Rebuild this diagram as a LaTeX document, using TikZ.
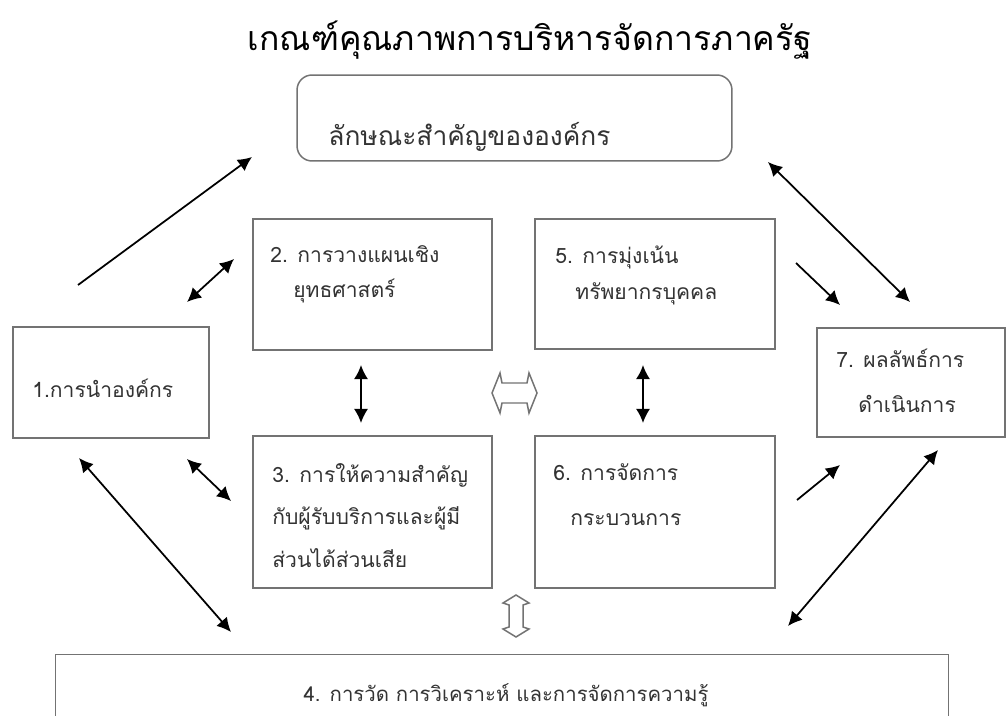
\documentclass[tikz,border=0pt]{standalone}
\usepackage{fontspec}
\newfontfamily\thai[Script=Thai]{Loma}
\usetikzlibrary{arrows.meta}
\definecolor{boxline}{gray}{0.45}
\definecolor{txt}{gray}{0.2}
\tikzset{
  box/.style={draw=boxline, line width=0.85pt, minimum width=#1, inner sep=0pt},
  lbl/.style={anchor=base west, inner sep=0pt, text=txt, font=\thai\fontsize{12}{15}\selectfont},
  arr/.style={line width=1pt, -{Latex[length=8pt,width=8pt]}},
  darr/.style={line width=1pt, {Latex[length=8pt,width=8pt]}-{Latex[length=8pt,width=8pt]}},
  hollow/.style={draw=boxline, line width=0.85pt, line join=miter, fill=white}
}
\begin{document}
\begin{tikzpicture}[x=0.02cm,y=-0.02cm]
\useasboundingbox (0,0) rectangle (1007,716);
\fill[white] (0,0) rectangle (1007,716);

% title
\node (title) [inner sep=0pt, font=\thai\fontsize{19.2}{24}\selectfont] at (530,40) {เกณฑ์คุณภาพการบริหารจัดการภาครัฐ};

% boxes
\node (top) [box=8.7cm, minimum height=1.72cm, rounded corners=0.3cm] at (514.5,118) {};
\node (b1) [box=3.92cm, minimum height=2.22cm] at (111,382.5) {};
\node (b2) [box=4.78cm, minimum height=2.62cm] at (372.5,284.5) {};
\node (b5) [box=4.8cm, minimum height=2.6cm] at (655,284) {};
\node (b3) [box=4.78cm, minimum height=3.04cm] at (372.5,512) {};
\node (b6) [box=4.8cm, minimum height=3.04cm] at (655,512) {};
\node (b7) [box=3.76cm, minimum height=2.18cm] at (911,382.5) {};
\node (b4) [inner sep=0pt, minimum width=17.84cm, minimum height=1.22cm] at (502,685.5) {};
\draw[boxline, line width=0.85pt] (b4.south west) -- (b4.north west) -- (b4.north east) -- (b4.south east);

% texts
\node (ttop) [lbl, font=\thai\fontsize{15}{18}\selectfont] at (328,146) {ลักษณะสำคัญขององค์กร};
\node (t1) [lbl] at (32,397) {1.การนำองค์กร};
\node (t2a) [lbl] at (270,262) {2. การวางแผนเชิง};
\node (t2b) [lbl] at (293,297) {ยุทธศาสตร์};
\node (t5a) [lbl] at (555,263) {5. การมุ่งเน้น};
\node (t5b) [lbl] at (575,299) {ทรัพยากรบุคคล};
\node (t7a) [lbl] at (836,367) {7. ผลลัพธ์การ};
\node (t7b) [lbl] at (858,412) {ดำเนินการ};
\node (t3a) [lbl] at (272,482) {3. การให้ความสำคัญ};
\node (t3b) [lbl] at (272,524) {กับผู้รับบริการและผู้มี};
\node (t3c) [lbl] at (272,567) {ส่วนได้ส่วนเสีย};
\node (t6a) [lbl] at (553,480) {6. การจัดการ};
\node (t6b) [lbl] at (570,525) {กระบวนการ};
\node (t4) [inner sep=0pt, text=txt, font=\thai\fontsize{11.6}{14}\selectfont] at (506,695) {4. การวัด การวิเคราะห์ และการจัดการความรู้};

% arrow end points
\coordinate (a1s) at (78,285);   \coordinate (a1e) at (252,157);
\coordinate (a2s) at (187,302);  \coordinate (a2e) at (234,259);
\coordinate (a3s) at (768,162);  \coordinate (a3e) at (910,302);
\coordinate (a4s) at (796,263);  \coordinate (a4e) at (840,305);
\coordinate (a5s) at (187,459);  \coordinate (a5e) at (231,501);
\coordinate (a6s) at (79,458);   \coordinate (a6e) at (231,632);
\coordinate (a7s) at (797,500);  \coordinate (a7e) at (840,465);
\coordinate (a8s) at (938,450);  \coordinate (a8e) at (788,626);
\coordinate (a9s) at (361,365);  \coordinate (a9e) at (361,423);
\coordinate (a10s) at (643,365); \coordinate (a10e) at (643,423);

\draw[arr] (a1s) -- (a1e);
\draw[darr] (a2s) -- (a2e);
\draw[darr] (a3s) -- (a3e);
\draw[arr] (a4s) -- (a4e);
\draw[darr] (a5s) -- (a5e);
\draw[darr] (a6s) -- (a6e);
\draw[arr] (a7s) -- (a7e);
\draw[darr] (a8s) -- (a8e);
\draw[darr] (a9s) -- (a9e);
\draw[darr] (a10s) -- (a10e);

% hollow double arrows
\draw[hollow] (492,393) -- (500,373) -- (502,383) -- (527,383) -- (529,373) -- (537,393) -- (529,413) -- (527,403) -- (502,403) -- (500,413) -- cycle;
\draw[hollow] (516,595) -- (529,603) -- (523,605) -- (523,627) -- (529,629) -- (516,637) -- (503,629) -- (509,627) -- (509,605) -- (503,603) -- cycle;
\end{tikzpicture}
\end{document}
